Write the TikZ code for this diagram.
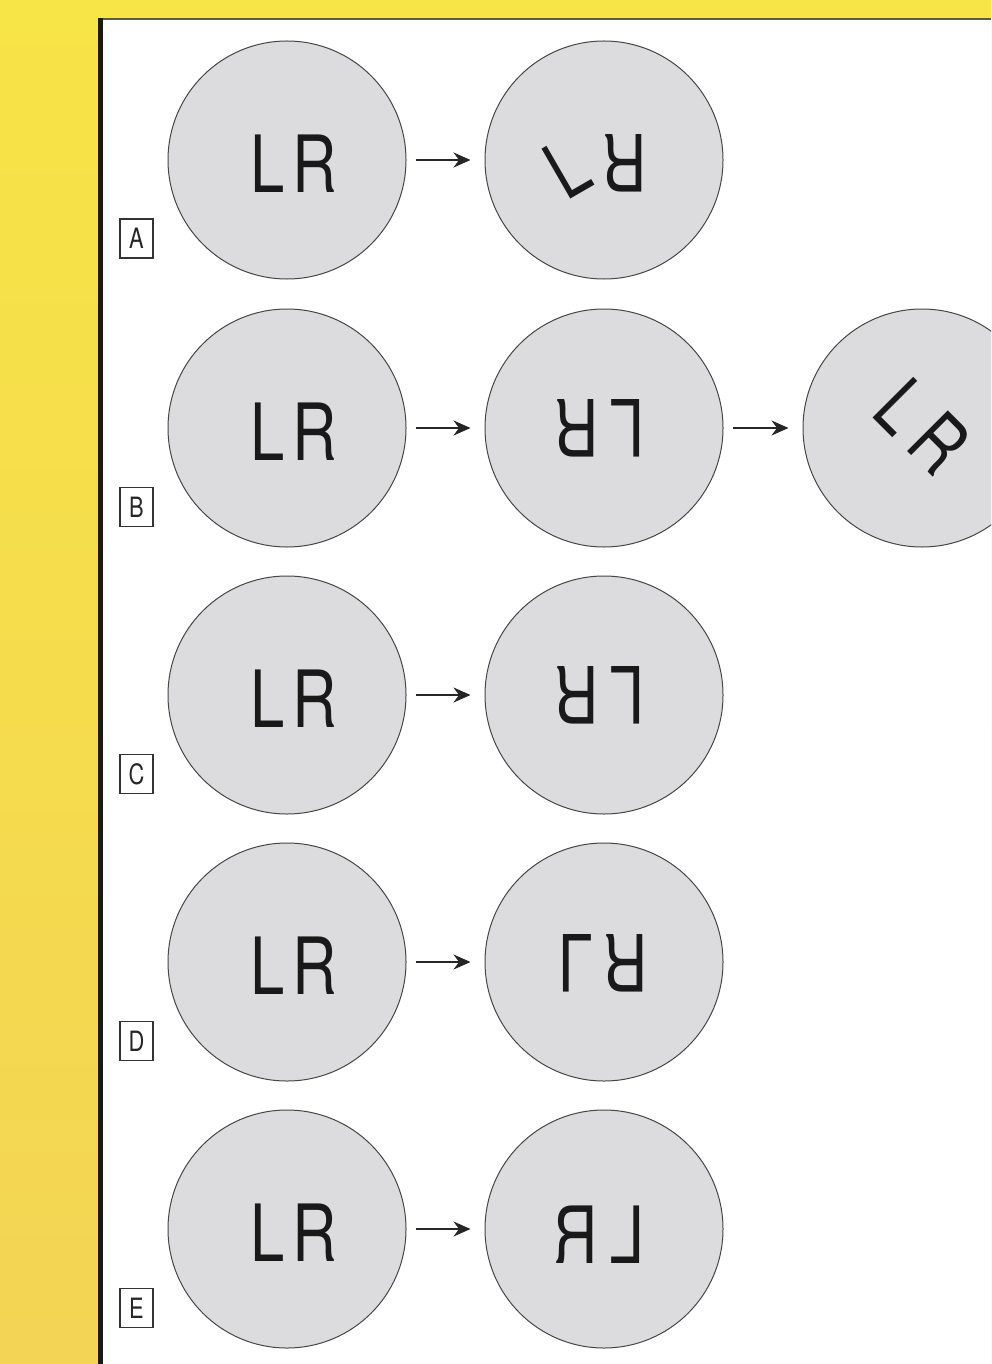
\documentclass[tikz,border=0pt]{standalone}
\usepackage{fontspec}
\newfontfamily\lrfont{TeX Gyre Heros}[FakeStretch=0.78]
\usetikzlibrary{arrows.meta}
\definecolor{ylwtop}{RGB}{247,228,70}
\definecolor{ylwbot}{RGB}{243,212,84}
\definecolor{circfill}{RGB}{220,220,222}
\definecolor{circline}{RGB}{70,70,70}
\tikzset{
  circ/.style={circle, draw=circline, line width=1pt, fill=circfill, minimum size=238pt, inner sep=0pt},
  lt/.style={font=\lrfont\fontsize{79}{80}\selectfont, inner sep=0pt, text=black!90},
  lab/.style={draw=black!80, line width=1.2pt, minimum width=33pt, minimum height=39pt, inner sep=0pt, font=\lrfont\fontsize{28}{30}\selectfont, text=black!85},
  arr/.style={line width=1.6pt, black!85, -{Stealth[length=17pt,width=15pt]}, shorten <=9pt, shorten >=14pt}
}
\begin{document}
\begin{tikzpicture}[x=1pt,y=-1pt]
\useasboundingbox (0,0) rectangle (991,1364);
\clip (0,0) rectangle (991,1364);
\shade[top color=ylwtop,bottom color=ylwbot] (0,0) rectangle (991,1364);
\fill[white] (101,19) rectangle (991,1364);
\draw[line width=2pt, black!65] (98,19) -- (991,19);
\draw[line width=5pt, black!90] (100.5,18) -- (100.5,1364);

% Row A
\node[circ] (a1) at (287,160) {};
\node[circ] (a2) at (604,160) {};
\node[lt] (a1L) at (267.5,163.5) {L};
\node[lt] (a1R) at (315,163.5) {R};
\node[lt, rotate=30] (a2L) at (567,168) {L};
\node[lt, rotate=180] (a2R) at (625,163) {R};
\draw[arr] (a1) -- (a2);
\node[lab] (labA) at (136.5,238.5) {A};

% Row B
\node[circ] (b1) at (287,428) {};
\node[circ] (b2) at (604,428) {};
\node[circ] (b3) at (922,428) {};
\node[lt] (b1L) at (267.5,431.5) {L};
\node[lt] (b1R) at (315,431.5) {R};
\node[lt, rotate=180] (b2R) at (577.5,428.5) {R};
\node[lt, rotate=180] (b2L) at (627.5,428.5) {L};
\node[lt, rotate=-45] (b3LR) at (922.5,426.5) {L\kern13pt R};
\draw[arr] (b1) -- (b2);
\draw[arr] (b2) -- (b3);
\node[lab] (labB) at (136.5,507) {B};

% Row C
\node[circ] (c1) at (287,695) {};
\node[circ] (c2) at (604,695) {};
\node[lt] (c1L) at (267.5,698.5) {L};
\node[lt] (c1R) at (315,698.5) {R};
\node[lt, rotate=180] (c2R) at (577.5,695.5) {R};
\node[lt, rotate=180] (c2L) at (627.5,695.5) {L};
\draw[arr] (c1) -- (c2);
\node[lab] (labC) at (136.5,774) {C};

% Row D
\node[circ] (d1) at (287,962) {};
\node[circ] (d2) at (604,962) {};
\node[lt] (d1L) at (267.5,965.5) {L};
\node[lt] (d1R) at (315,965.5) {R};
\node[lt, yscale=-1] (d2L) at (576,963.5) {L};
\node[lt, rotate=180] (d2R) at (626,963.5) {R};
\draw[arr] (d1) -- (d2);
\node[lab] (labD) at (136.5,1041) {D};

% Row E
\node[circ] (e1) at (287,1229) {};
\node[circ] (e2) at (604,1229) {};
\node[lt] (e1L) at (267.5,1232.5) {L};
\node[lt] (e1R) at (315,1232.5) {R};
\node[lt, xscale=-1] (e2R) at (576.5,1235) {R};
\node[lt, xscale=-1] (e2L) at (627.5,1235) {L};
\draw[arr] (e1) -- (e2);
\node[lab] (labE) at (136.5,1308) {E};
\end{tikzpicture}
\end{document}
